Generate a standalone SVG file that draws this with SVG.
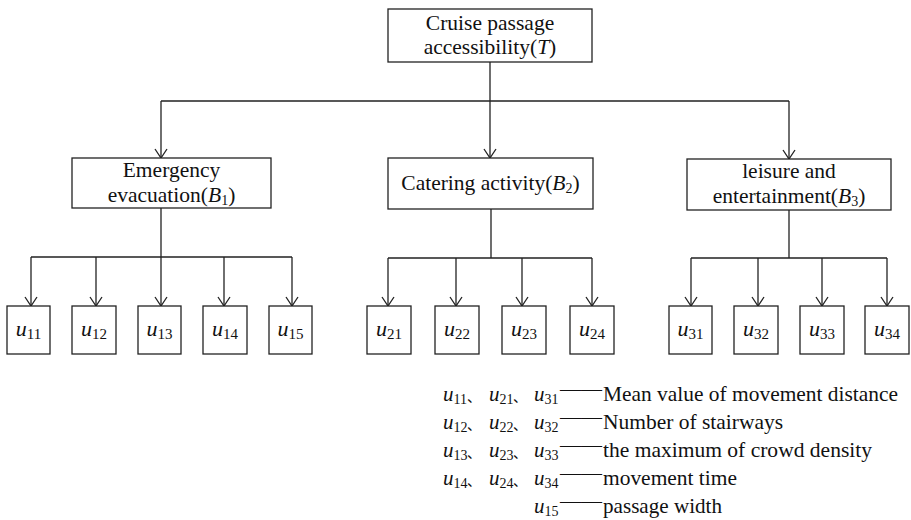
<svg xmlns="http://www.w3.org/2000/svg" width="911" height="520" viewBox="0 0 911 520">
<style>
.box{fill:#fff;stroke:#222;stroke-width:1.3}
.ln{fill:none;stroke:#222;stroke-width:1.3}
.t{font-family:"Liberation Serif","Times New Roman",serif;font-size:21.5px;fill:#111;text-anchor:middle}
.lf{font-family:"Liberation Serif","Times New Roman",serif;font-size:22px;fill:#111;text-anchor:middle}
.lg{font-family:"Liberation Serif","Times New Roman",serif;font-size:21px;fill:#111}
.cj{font-family:"Noto Sans CJK SC",sans-serif;font-size:14px;fill:#111}
.i{font-style:italic}
</style>
<defs>
<marker id="arr" viewBox="-10 -7 11 14" refX="0" refY="0" markerWidth="11" markerHeight="14" markerUnits="userSpaceOnUse" orient="auto">
<path d="M-9,-6 L0,0 L-9,6" fill="none" stroke="#222" stroke-width="1.3"/>
</marker>
</defs>

<g id="connectors">
<path class="ln" d="M490,62 V101 M161,101 H789"/>
<path class="ln" d="M161,101 V158" marker-end="url(#arr)"/>
<path class="ln" d="M490,101 V158" marker-end="url(#arr)"/>
<path class="ln" d="M789,101 V159" marker-end="url(#arr)"/>

<path class="ln" d="M161,208 V257 M31,257 H292"/>
<path class="ln" d="M31,257 V306" marker-end="url(#arr)"/>
<path class="ln" d="M96,257 V306" marker-end="url(#arr)"/>
<path class="ln" d="M161,257 V306" marker-end="url(#arr)"/>
<path class="ln" d="M224,257 V306" marker-end="url(#arr)"/>
<path class="ln" d="M292,257 V306" marker-end="url(#arr)"/>

<path class="ln" d="M491,209 V258 M388,258 H592"/>
<path class="ln" d="M388,258 V306" marker-end="url(#arr)"/>
<path class="ln" d="M456,258 V306" marker-end="url(#arr)"/>
<path class="ln" d="M522,258 V306" marker-end="url(#arr)"/>
<path class="ln" d="M592,258 V306" marker-end="url(#arr)"/>

<path class="ln" d="M789,210 V258 M691,258 H887"/>
<path class="ln" d="M691,258 V306" marker-end="url(#arr)"/>
<path class="ln" d="M758,258 V306" marker-end="url(#arr)"/>
<path class="ln" d="M822,258 V306" marker-end="url(#arr)"/>
<path class="ln" d="M887,258 V306" marker-end="url(#arr)"/>
</g>

<g id="T">
<rect class="box" x="388" y="9" width="204" height="53"/>
<text class="t" x="490" y="30">Cruise passage</text>
<text class="t" x="490" y="54">accessibility(<tspan class="i">T</tspan>)</text>
</g>

<g id="B1">
<rect class="box" x="72" y="158" width="199" height="50"/>
<text class="t" x="171.5" y="177">Emergency</text>
<text class="t" x="171.5" y="202">evacuation(<tspan class="i">B</tspan><tspan font-size="14" dy="3">1</tspan><tspan dy="-3">)</tspan></text>
</g>

<g id="B2">
<rect class="box" x="388" y="158" width="205" height="51"/>
<text class="t" x="490.5" y="190">Catering activity(<tspan class="i">B</tspan><tspan font-size="14" dy="3">2</tspan><tspan dy="-3">)</tspan></text>
</g>

<g id="B3">
<rect class="box" x="687" y="159" width="204" height="51"/>
<text class="t" x="789" y="178">leisure and</text>
<text class="t" x="789" y="203">entertainment(<tspan class="i">B</tspan><tspan font-size="14" dy="3">3</tspan><tspan dy="-3">)</tspan></text>
</g>

<g id="u11"><rect class="box" x="7" y="306" width="43" height="48"/><text class="lf" x="28.5" y="336"><tspan class="i">u</tspan><tspan font-size="15" dy="3">11</tspan></text></g>
<g id="u12"><rect class="box" x="72" y="306" width="44" height="48"/><text class="lf" x="94" y="336"><tspan class="i">u</tspan><tspan font-size="15" dy="3">12</tspan></text></g>
<g id="u13"><rect class="box" x="138" y="306" width="43" height="48"/><text class="lf" x="159.5" y="336"><tspan class="i">u</tspan><tspan font-size="15" dy="3">13</tspan></text></g>
<g id="u14"><rect class="box" x="203" y="306" width="44" height="48"/><text class="lf" x="225" y="336"><tspan class="i">u</tspan><tspan font-size="15" dy="3">14</tspan></text></g>
<g id="u15"><rect class="box" x="269" y="306" width="43" height="48"/><text class="lf" x="290.5" y="336"><tspan class="i">u</tspan><tspan font-size="15" dy="3">15</tspan></text></g>

<g id="u21"><rect class="box" x="367" y="306" width="44" height="48"/><text class="lf" x="389" y="336"><tspan class="i">u</tspan><tspan font-size="15" dy="3">21</tspan></text></g>
<g id="u22"><rect class="box" x="435" y="306" width="44" height="48"/><text class="lf" x="457" y="336"><tspan class="i">u</tspan><tspan font-size="15" dy="3">22</tspan></text></g>
<g id="u23"><rect class="box" x="502" y="306" width="44" height="48"/><text class="lf" x="524" y="336"><tspan class="i">u</tspan><tspan font-size="15" dy="3">23</tspan></text></g>
<g id="u24"><rect class="box" x="570" y="306" width="44" height="48"/><text class="lf" x="592" y="336"><tspan class="i">u</tspan><tspan font-size="15" dy="3">24</tspan></text></g>

<g id="u31"><rect class="box" x="669" y="306" width="43" height="48"/><text class="lf" x="690.5" y="336"><tspan class="i">u</tspan><tspan font-size="15" dy="3">31</tspan></text></g>
<g id="u32"><rect class="box" x="734" y="306" width="44" height="48"/><text class="lf" x="756" y="336"><tspan class="i">u</tspan><tspan font-size="15" dy="3">32</tspan></text></g>
<g id="u33"><rect class="box" x="800" y="306" width="44" height="48"/><text class="lf" x="822" y="336"><tspan class="i">u</tspan><tspan font-size="15" dy="3">33</tspan></text></g>
<g id="u34"><rect class="box" x="865" y="306" width="44" height="48"/><text class="lf" x="887" y="336"><tspan class="i">u</tspan><tspan font-size="15" dy="3">34</tspan></text></g>

<g id="legend">
<text class="lg" x="443" y="401"><tspan class="i">u</tspan><tspan font-size="14" dy="3">11</tspan></text>
<text class="cj" x="467" y="402">、</text>
<text class="lg" x="489" y="401"><tspan class="i">u</tspan><tspan font-size="14" dy="3">21</tspan></text>
<text class="cj" x="513" y="402">、</text>
<text class="lg" x="534" y="401"><tspan class="i">u</tspan><tspan font-size="14" dy="3">31</tspan></text>
<text class="lg" x="560" y="396" textLength="42" lengthAdjust="spacingAndGlyphs">——</text>
<text class="lg" x="603" y="401" textLength="295" lengthAdjust="spacingAndGlyphs">Mean value of movement distance</text>

<text class="lg" x="443" y="429"><tspan class="i">u</tspan><tspan font-size="14" dy="3">12</tspan></text>
<text class="cj" x="467" y="430">、</text>
<text class="lg" x="489" y="429"><tspan class="i">u</tspan><tspan font-size="14" dy="3">22</tspan></text>
<text class="cj" x="513" y="430">、</text>
<text class="lg" x="534" y="429"><tspan class="i">u</tspan><tspan font-size="14" dy="3">32</tspan></text>
<text class="lg" x="560" y="424" textLength="42" lengthAdjust="spacingAndGlyphs">——</text>
<text class="lg" x="603" y="429" textLength="180" lengthAdjust="spacingAndGlyphs">Number of stairways</text>

<text class="lg" x="443" y="457"><tspan class="i">u</tspan><tspan font-size="14" dy="3">13</tspan></text>
<text class="cj" x="467" y="458">、</text>
<text class="lg" x="489" y="457"><tspan class="i">u</tspan><tspan font-size="14" dy="3">23</tspan></text>
<text class="cj" x="513" y="458">、</text>
<text class="lg" x="534" y="457"><tspan class="i">u</tspan><tspan font-size="14" dy="3">33</tspan></text>
<text class="lg" x="560" y="452" textLength="42" lengthAdjust="spacingAndGlyphs">——</text>
<text class="lg" x="603" y="457" textLength="269" lengthAdjust="spacingAndGlyphs">the maximum of crowd density</text>

<text class="lg" x="443" y="485"><tspan class="i">u</tspan><tspan font-size="14" dy="3">14</tspan></text>
<text class="cj" x="467" y="486">、</text>
<text class="lg" x="489" y="485"><tspan class="i">u</tspan><tspan font-size="14" dy="3">24</tspan></text>
<text class="cj" x="513" y="486">、</text>
<text class="lg" x="534" y="485"><tspan class="i">u</tspan><tspan font-size="14" dy="3">34</tspan></text>
<text class="lg" x="560" y="480" textLength="42" lengthAdjust="spacingAndGlyphs">——</text>
<text class="lg" x="603" y="485" textLength="134" lengthAdjust="spacingAndGlyphs">movement time</text>

<text class="lg" x="534" y="513"><tspan class="i">u</tspan><tspan font-size="14" dy="3">15</tspan></text>
<text class="lg" x="560" y="508" textLength="42" lengthAdjust="spacingAndGlyphs">——</text>
<text class="lg" x="603" y="513" textLength="119" lengthAdjust="spacingAndGlyphs">passage width</text>
</g>
</svg>
